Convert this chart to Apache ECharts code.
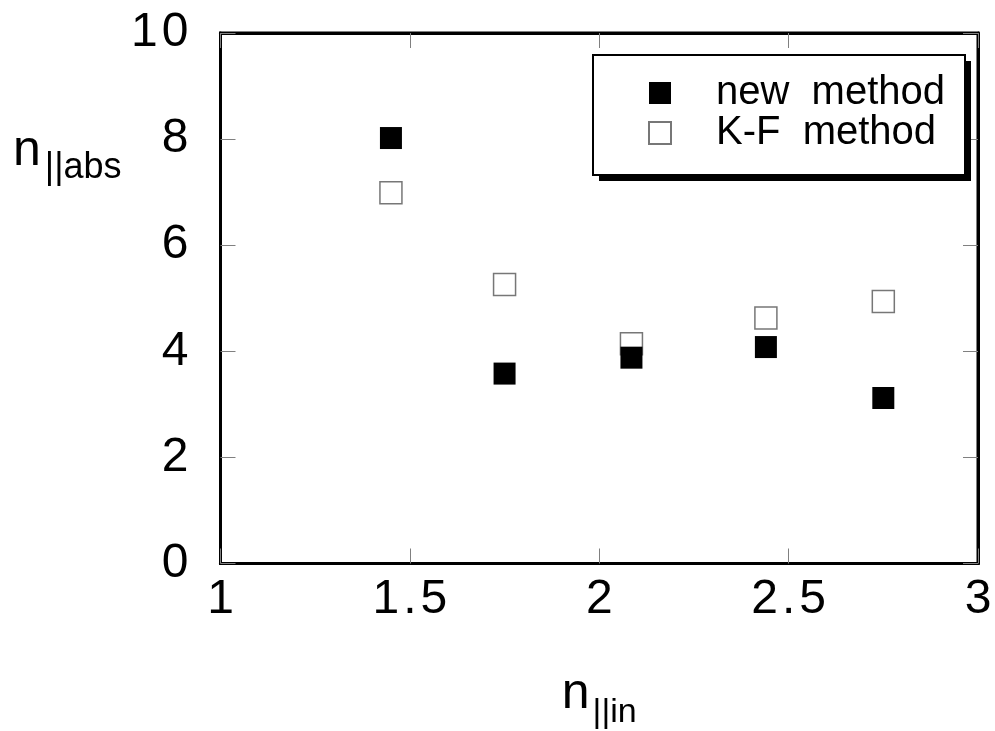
<!DOCTYPE html>
<html>
<head>
<meta charset="utf-8">
<script src="https://cdn.jsdelivr.net/npm/echarts@6/dist/echarts.min.js"></script>
<style>html,body{margin:0;padding:0;background:#fff;}#c{width:995px;height:731px;}</style>
</head>
<body>
<div id="c"></div>
<script>
const xValues = [1.45, 1.75, 2.085, 2.44, 2.75];
const newMethod = [8.02, 3.58, 3.88, 4.08, 3.12];
const kfMethod = [6.99, 5.26, 4.14, 4.63, 4.94];
const seriesNames = ['new  method', 'K-F  method'];
const xRange = [1, 3, 0.5];
const yRange = [0, 10, 2];

const FONT = 'Liberation Sans';
const spaced = v => String(v).split('').join('\u200A');

const tick = () => ({show: true, inside: true, length: 15, lineStyle: {color: '#808080', width: 1}});
const line = () => ({show: true, onZero: false, lineStyle: {color: '#000', width: 3}});

const chart = echarts.init(document.getElementById('c'));
chart.setOption({
  animation: false,
  backgroundColor: '#fff',
  grid: {left: 220.5, right: 17, top: 33, bottom: 167.5, outerBoundsMode: 'none', containLabel: false,
         show: true, borderColor: '#000', borderWidth: 3, backgroundColor: 'transparent'},
  xAxis: [{
    type: 'value', min: xRange[0], max: xRange[1], interval: xRange[2], position: 'bottom',
    axisLine: line(), axisTick: tick(), splitLine: {show: false},
    axisLabel: {fontSize: 48, fontFamily: FONT, color: '#000', margin: 12, formatter: spaced},
    name: '{n|n}{s|||in}', nameLocation: 'middle', nameGap: 106,
    nameTextStyle: {rich: {
      n: {fontSize: 50, fontFamily: FONT, color: '#000', verticalAlign: 'bottom', padding: [0, 3, 10, 0]},
      s: {fontSize: 34, fontFamily: FONT, color: '#000', verticalAlign: 'bottom'}
    }}
  }, {
    type: 'value', min: xRange[0], max: xRange[1], interval: xRange[2], position: 'top',
    axisLine: line(), axisTick: tick(), splitLine: {show: false}, axisLabel: {show: false}
  }],
  yAxis: [{
    type: 'value', min: yRange[0], max: yRange[1], interval: yRange[2], position: 'left',
    axisLine: line(), axisTick: tick(), splitLine: {show: false},
    axisLabel: {fontSize: 48, fontFamily: FONT, color: '#000', margin: 32, formatter: spaced}
  }, {
    type: 'value', min: yRange[0], max: yRange[1], interval: yRange[2], position: 'right',
    axisLine: line(), axisTick: tick(), splitLine: {show: false}, axisLabel: {show: false}
  }],
  legend: {
    data: seriesNames, orient: 'vertical', left: 593, top: 55,
    itemWidth: 22, itemHeight: 22, itemGap: 0,
    padding: [18, 17, 29, 55],
    z: 10,
    textStyle: {fontSize: 40, fontFamily: FONT, color: '#000', lineHeight: 33, padding: [6, 0, 0, 40]}
  },
  graphic: [{
    type: 'rect', z: 5, shape: {x: 599, y: 61, width: 372, height: 120},
    style: {fill: '#000'}
  }, {
    type: 'rect', z: 6, shape: {x: 593, y: 55, width: 372, height: 120},
    style: {fill: '#fff', stroke: '#000', lineWidth: 2}
  }, {
    type: 'text', left: 13, top: 126,
    style: {
      text: '{n|n}{s|||abs}',
      rich: {
        n: {fontSize: 50, fontFamily: FONT, fill: '#000', verticalAlign: 'bottom', padding: [0, 4, 10, 0]},
        s: {fontSize: 36, fontFamily: FONT, fill: '#000', verticalAlign: 'bottom'}
      }
    }
  }],
  series: [{
    name: seriesNames[1], type: 'scatter', symbol: 'rect', symbolSize: 22,
    itemStyle: {color: '#fff', borderColor: '#777', borderWidth: 1.5, opacity: 1},
    data: xValues.map((x, i) => [x, kfMethod[i]]), z: 2
  }, {
    name: seriesNames[0], type: 'scatter', symbol: 'rect', symbolSize: 22,
    itemStyle: {color: '#000', borderColor: '#000', borderWidth: 0, opacity: 1},
    data: xValues.map((x, i) => [x, newMethod[i]]), z: 3
  }]
});
</script>
</body>
</html>
